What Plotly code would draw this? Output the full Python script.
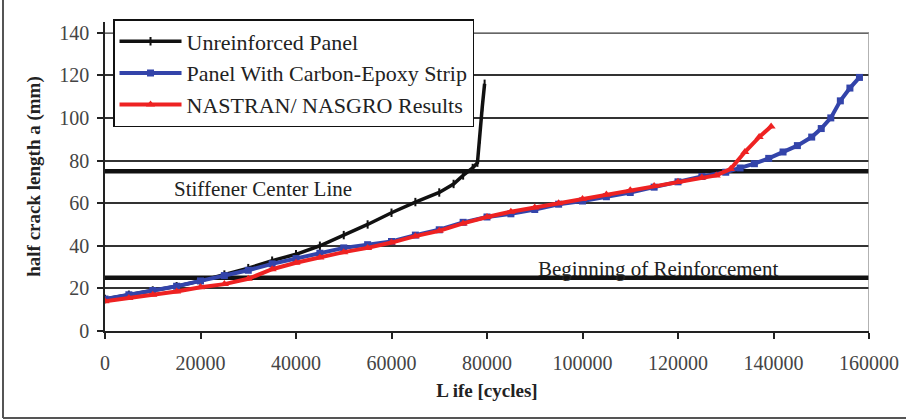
import plotly.graph_objects as go

# ---- data ----
unrein_life = [0, 5000, 10000, 15000, 20000, 25000, 30000, 35000, 40000, 45000,
               50000, 55000, 60000, 65000, 70000, 73000, 75000, 77000, 78000,
               78500, 79000, 79500]
unrein_a = [15, 17, 19, 21, 23.5, 26.5, 29.5, 33, 36, 40,
            45, 50, 55.5, 60.5, 65, 69, 73, 76.5, 79, 90, 105, 116]

strip_life = [0, 5000, 10000, 15000, 20000, 25000, 30000, 35000, 40000, 45000,
              50000, 55000, 60000, 65000, 70000, 75000, 80000, 85000, 90000,
              95000, 100000, 105000, 110000, 115000, 120000, 125000, 130000,
              133000, 136000, 139000, 142000, 145000, 148000, 150000, 152000,
              154000, 156000, 158000]
strip_a = [15, 17, 19, 21, 23.5, 26, 28.5, 31.5, 34, 36.5,
           39, 40.5, 42, 45, 47.5, 51, 53.5, 55, 57,
           59.5, 61, 63, 65, 67.5, 70, 72.5, 74.5,
           76.5, 78.5, 81, 84, 87, 91, 95, 100,
           108, 114, 119]

nas_life = [0, 5000, 10000, 15000, 20000, 25000, 30000, 35000, 40000, 45000,
            50000, 55000, 60000, 65000, 70000, 75000, 80000, 85000, 90000,
            95000, 100000, 105000, 110000, 115000, 120000, 125000, 128000,
            131000, 134000, 137000, 139500]
nas_a = [14, 15.5, 17, 18.5, 20.5, 22, 24.5, 29, 32, 34.5,
         37, 39, 41.5, 44.5, 47, 50.5, 53.5, 56, 58,
         60, 62, 64, 66, 68, 70, 72, 73,
         76, 84, 91, 96]

stiffener_center = 75
reinforcement_start = 25

x_ticks = [0, 20000, 40000, 60000, 80000, 100000, 120000, 140000, 160000]
y_ticks = [0, 20, 40, 60, 80, 100, 120, 140]
x_max = 160000
y_top = 140

SERIF = "Liberation Serif, Times New Roman, serif"

fig = go.Figure()
fig.add_trace(go.Scatter(
    x=unrein_life, y=unrein_a, mode="lines+markers", name="Unreinforced Panel",
    line=dict(color="#111111", width=3.5),
    marker=dict(symbol="line-ns-open", size=6, line=dict(color="#111111", width=2)),
    legendgroup="a"))
fig.add_trace(go.Scatter(
    x=strip_life, y=strip_a, mode="lines+markers", name="Panel With Carbon-Epoxy Strip",
    line=dict(color="#3344aa", width=4),
    marker=dict(symbol="square", size=7, color="#3344aa"),
    legendgroup="b"))
fig.add_trace(go.Scatter(
    x=nas_life, y=nas_a, mode="lines+markers", name="NASTRAN/ NASGRO Results",
    line=dict(color="#ee2222", width=4),
    marker=dict(symbol="triangle-up", size=8, color="#ee2222"),
    legendgroup="c"))

# thick reference lines
for yv in (stiffener_center, reinforcement_start):
    fig.add_shape(type="line", xref="x", yref="y", x0=-300, x1=160600, y0=yv, y1=yv,
                  line=dict(color="#111111", width=4.5), layer="below")

# plot-area frame (top/right, light gray)
fig.add_shape(type="path", xref="x", yref="y",
              path=f"M0,{y_top} L{x_max},{y_top} L{x_max},0",
              line=dict(color="#999999", width=1.5), layer="above")

# outer picture frame (left and bottom)
fig.add_shape(type="line", xref="paper", yref="paper", x0=-0.1335, x1=-0.1335,
              y0=-0.2816, y1=1.2, line=dict(color="#555555", width=2))
fig.add_shape(type="line", xref="paper", yref="paper", x0=-0.1335, x1=1.1,
              y0=-0.2816, y1=-0.2816, line=dict(color="#555555", width=2))

fig.add_annotation(x=33100, y=66.5, xref="x", yref="y", text="Stiffener Center Line",
                   showarrow=False, font=dict(family=SERIF, size=21, color="#222222"))
fig.add_annotation(x=115800, y=29, xref="x", yref="y", text="Beginning of Reinforcement",
                   showarrow=False, font=dict(family=SERIF, size=21, color="#222222"))

fig.update_layout(
    width=906, height=420,
    margin=dict(l=105, r=37, t=22, b=89),
    paper_bgcolor="white", plot_bgcolor="white",
    font=dict(family=SERIF, color="#333333"),
    showlegend=True,
    legend=dict(x=0.0105, y=1.0097, xanchor="left", yanchor="top",
                bgcolor="white", bordercolor="#111111", borderwidth=1.5,
                font=dict(family=SERIF, size=22, color="#222222"),
                tracegroupgap=0, itemwidth=62),
    xaxis=dict(range=[0, x_max], tickvals=x_ticks, ticktext=[str(v) for v in x_ticks],
               automargin=False,
               showgrid=False, zeroline=False, showline=True, linecolor="#222222",
               linewidth=1.5, ticks="outside", ticklen=6, tickcolor="#222222",
               tickwidth=1.5, ticklabelstandoff=7,
               tickfont=dict(family=SERIF, size=20, color="#444444"),
               title=dict(text="<b>L ife [cycles]</b>", standoff=11,
                          font=dict(family=SERIF, size=19, color="#222222"))),
    yaxis=dict(range=[0, 145.0], tickvals=y_ticks, showgrid=True, gridcolor="#333333",
               automargin=False,
               gridwidth=1.5, zeroline=False, showline=True, linecolor="#222222",
               linewidth=1.5, ticks="outside", ticklen=6, tickcolor="#222222",
               tickwidth=1.5, ticklabelstandoff=4,
               tickfont=dict(family=SERIF, size=20, color="#444444"),
               title=dict(text="<b>half crack length a (mm)</b>", standoff=14,
                          font=dict(family=SERIF, size=19, color="#222222"))),
)

fig.write_html("out.html", config={"displayModeBar": False},
               post_script="document.body.style.margin='0';")
